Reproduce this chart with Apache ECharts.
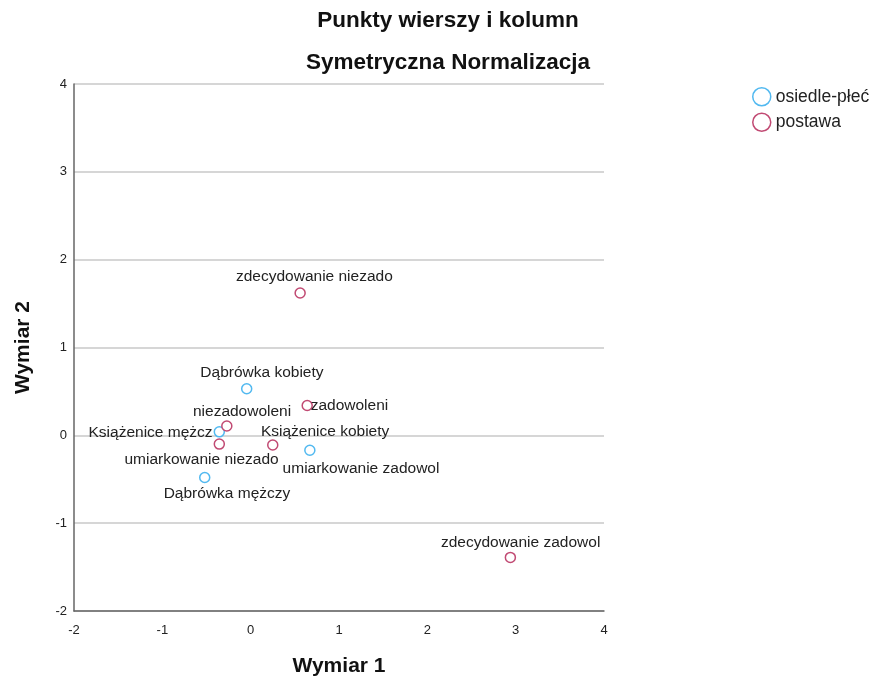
<!DOCTYPE html>
<html>
<head>
<meta charset="utf-8">
<script src="https://cdn.jsdelivr.net/npm/echarts@6/dist/echarts.min.js"></script>
<style>
  html, body { margin: 0; padding: 0; background: #fff; }
  #chart { width: 873px; height: 682px; }
</style>
</head>
<body>
<div id="chart"></div>
<script>
// punkty wierszy (osiedle-płeć)
const rowNames = ["Dąbrówka kobiety", "Książenice mężcz", "Książenice kobiety", "Dąbrówka mężczy"];
const rowX = [-0.045, -0.355, 0.67, -0.52];
const rowY = [0.53, 0.04, -0.17, -0.48];
// punkty kolumn (postawa)
const colNames = ["zdecydowanie niezado", "zadowoleni", "niezadowoleni", "umiarkowanie niezado", "umiarkowanie zadowol", "zdecydowanie zadowol"];
const colX = [0.56, 0.64, -0.27, -0.355, 0.25, 2.94];
const colY = [1.62, 0.34, 0.106, -0.10, -0.11, -1.39];

// przesunięcia etykiet (środek tekstu względem punktu, w pikselach)
const rowOffsets = [[16, -15], [-68, 2], [16, -18], [23, 17]];
const colOffsets = [[15, -16], [43, 1], [16, -14], [-17, 16], [89, 24], [11, -14]];

const blue = "#52b9f0";
const pink = "#c14a73";
const symSize = 10;

function buildData(names, xs, ys, offsets) {
  return names.map((n, i) => ({
    name: n,
    value: [xs[i], ys[i]],
    label: { position: [symSize / 2 + offsets[i][0], symSize / 2 + offsets[i][1]] }
  }));
}

const labelStyle = {
  show: true,
  formatter: (p) => p.name,
  align: "center",
  verticalAlign: "middle",
  color: "#222",
  fontSize: 15.5,
  fontFamily: "Liberation Sans, Arial, sans-serif"
};

const chart = echarts.init(document.getElementById("chart"));
chart.setOption({
  animation: false,
  textStyle: { fontFamily: "Liberation Sans, Arial, sans-serif" },
  title: [
    {
      text: "Punkty wierszy i kolumn",
      left: 448, top: 9, textAlign: "center", padding: 0,
      textStyle: { fontSize: 22.5, fontWeight: "bold", color: "#111" }
    },
    {
      text: "Symetryczna Normalizacja",
      left: 448, top: 51, textAlign: "center", padding: 0,
      textStyle: { fontSize: 22.5, fontWeight: "bold", color: "#111" }
    }
  ],
  legend: {
    orient: "vertical",
    left: 752, top: 87, padding: 0,
    itemWidth: 18, itemHeight: 18, itemGap: 6,
    textStyle: { fontSize: 17.5, color: "#222" },
    data: [
      { name: "osiedle-płeć", icon: "circle", itemStyle: { color: "#fff", borderColor: blue, borderWidth: 1.5 } },
      { name: "postawa", icon: "circle", itemStyle: { color: "#fff", borderColor: pink, borderWidth: 1.5 } }
    ]
  },
  grid: { left: 74, right: 269, top: 84, bottom: 70 },
  xAxis: {
    type: "value", min: -2, max: 4, interval: 1,
    name: "Wymiar 1", nameLocation: "middle", nameGap: 45,
    nameTextStyle: { fontSize: 21, fontWeight: "bold", color: "#111" },
    axisLine: { onZero: false, lineStyle: { color: "#666", width: 1.5 } },
    axisTick: { show: false },
    axisLabel: { color: "#222", fontSize: 13, margin: 13 },
    splitLine: { show: false }
  },
  yAxis: {
    type: "value", min: -2, max: 4, interval: 1,
    name: "Wymiar 2", nameLocation: "middle", nameGap: 40,
    nameTextStyle: { fontSize: 21, fontWeight: "bold", color: "#111" },
    axisLine: { show: true, onZero: false, lineStyle: { color: "#666", width: 1.5 } },
    axisTick: { show: false },
    axisLabel: { color: "#222", fontSize: 13, margin: 7 },
    splitLine: { show: true, lineStyle: { color: "#c8c8c8", width: 1.5 } }
  },
  series: [
    {
      name: "osiedle-płeć",
      type: "scatter",
      symbol: "circle", symbolSize: symSize,
      itemStyle: { color: "#fff", borderColor: blue, borderWidth: 1.5, opacity: 1 },
      label: labelStyle,
      labelLayout: { hideOverlap: false },
      data: buildData(rowNames, rowX, rowY, rowOffsets)
    },
    {
      name: "postawa",
      type: "scatter",
      symbol: "circle", symbolSize: symSize,
      itemStyle: { color: "#fff", borderColor: pink, borderWidth: 1.5, opacity: 1 },
      label: labelStyle,
      labelLayout: { hideOverlap: false },
      data: buildData(colNames, colX, colY, colOffsets)
    }
  ]
});
</script>
</body>
</html>
